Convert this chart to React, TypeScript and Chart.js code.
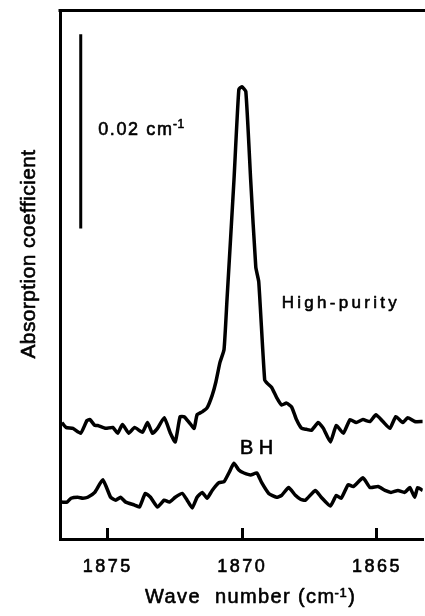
import React, { useEffect, useRef } from "react";
import { Chart, registerables } from "chart.js";

Chart.register(...registerables);

// ---- data (wave number in cm^-1, absorption coefficient in cm^-1) ----
const hpWave = [
  1876.70, 1876.55, 1876.29, 1876.00, 1875.77, 1875.66, 1875.48, 1875.37, 1875.07, 1874.81,
  1874.63, 1874.45, 1874.22, 1874.00, 1873.71, 1873.52, 1873.34, 1873.15, 1872.90, 1872.67,
  1872.49, 1872.31, 1872.16, 1871.97, 1871.79, 1871.68, 1871.49, 1871.31, 1871.12, 1870.98,
  1870.83, 1870.68, 1870.57, 1870.31, 1870.13, 1870.02, 1869.87, 1869.69, 1869.50, 1869.39,
  1869.17, 1869.06, 1868.91, 1868.73, 1868.54, 1868.36, 1868.17, 1867.99, 1867.80, 1867.62,
  1867.43, 1867.18, 1866.99, 1866.73, 1866.51, 1866.25, 1866.00, 1865.77, 1865.52, 1865.26,
  1865.04, 1864.78, 1864.52, 1864.30, 1864.04, 1863.86, 1863.60, 1863.30,
];
const hpAbs = [
  0.0120, 0.0115, 0.0114, 0.0109, 0.0122, 0.0123, 0.0117, 0.0117, 0.0114, 0.0115,
  0.0109, 0.0118, 0.0109, 0.0115, 0.0110, 0.0120, 0.0109, 0.0114, 0.0125, 0.0109,
  0.0100, 0.0126, 0.0126, 0.0120, 0.0114, 0.0128, 0.0131, 0.0135, 0.0148, 0.0162,
  0.0182, 0.0195, 0.0246, 0.0370, 0.0463, 0.0466, 0.0461, 0.0370, 0.0280, 0.0265,
  0.0164, 0.0160, 0.0156, 0.0146, 0.0138, 0.0140, 0.0136, 0.0123, 0.0114, 0.0113,
  0.0112, 0.0120, 0.0114, 0.0100, 0.0117, 0.0109, 0.0123, 0.0120, 0.0123, 0.0121,
  0.0128, 0.0121, 0.0114, 0.0126, 0.0120, 0.0125, 0.0121, 0.0121,
];
const bhWave = [
  1876.70, 1876.51, 1876.36, 1876.11, 1875.92, 1875.74, 1875.48, 1875.18, 1874.89, 1874.70,
  1874.52, 1874.33, 1874.00, 1873.82, 1873.60, 1873.41, 1873.15, 1872.90, 1872.71, 1872.49,
  1872.23, 1872.05, 1871.86, 1871.68, 1871.49, 1871.31, 1871.12, 1870.87, 1870.68, 1870.50,
  1870.31, 1870.13, 1869.94, 1869.69, 1869.46, 1869.28, 1869.02, 1868.73, 1868.54, 1868.28,
  1868.03, 1867.84, 1867.66, 1867.29, 1867.07, 1866.73, 1866.51, 1866.33, 1866.07, 1865.88,
  1865.52, 1865.26, 1864.96, 1864.70, 1864.48, 1864.22, 1863.97, 1863.78, 1863.60, 1863.49,
  1863.30,
];
const bhAbs = [
  0.0038, 0.0038, 0.0042, 0.0043, 0.0042, 0.0043, 0.0048, 0.0061, 0.0043, 0.0040,
  0.0043, 0.0038, 0.0035, 0.0033, 0.0047, 0.0043, 0.0033, 0.0040, 0.0038, 0.0043,
  0.0047, 0.0040, 0.0032, 0.0043, 0.0048, 0.0042, 0.0050, 0.0058, 0.0059, 0.0068,
  0.0078, 0.0071, 0.0068, 0.0066, 0.0068, 0.0058, 0.0047, 0.0043, 0.0045, 0.0053,
  0.0045, 0.0041, 0.0040, 0.0050, 0.0043, 0.0034, 0.0045, 0.0042, 0.0056, 0.0054,
  0.0063, 0.0053, 0.0054, 0.0050, 0.0048, 0.0050, 0.0048, 0.0053, 0.0043, 0.0053,
  0.0050,
];
// vertical scale bar: 0.02 cm^-1
const scaleBarWave = [1876.0, 1876.0];
const scaleBarAbs = [0.032, 0.052];

const xTickValues = [1875, 1870, 1865];
const xMin = 1863.3;
const xMax = 1876.77;
const yMin = 0;
const yMax = 0.0545;

const yTitle = "Absorption coefficient";
const xTitleMain = "Wave  number (cm";
const xTitleSup = "-1";
const xTitleEnd = ")";
const scaleLabelMain = "0.02 cm";
const scaleLabelSup = "-1";
const hpLabel = "High-purity";
const bhLabel = "BH";

const FONT = '"Liberation Sans", Arial, Helvetica, sans-serif';
const STROKE = 0.6;

const textPlugin = {
  id: "texts",
  beforeDraw(chart: any) {
    (chart.ctx as any).letterSpacing = "2.5px";
  },
  afterDraw(chart: any) {
    const ctx = chart.ctx as any;
    const xs = chart.scales.x;
    const ys = chart.scales.y;
    const area = chart.chartArea;
    ctx.save();
    // top frame line
    ctx.strokeStyle = "#000";
    ctx.lineWidth = 3;
    ctx.beginPath();
    ctx.moveTo(area.left - 1.5, area.top + 0.5);
    ctx.lineTo(chart.width, area.top + 0.5);
    ctx.stroke();

    ctx.fillStyle = "#000";
    ctx.strokeStyle = "#000";
    ctx.lineWidth = STROKE;
    ctx.lineJoin = "round";
    ctx.textBaseline = "alphabetic";
    ctx.textAlign = "left";
    const put = (s: string, px: number, py: number, size: number, ls: number) => {
      ctx.font = `${size}px ${FONT}`;
      ctx.letterSpacing = `${ls}px`;
      ctx.fillText(s, px, py);
      ctx.strokeText(s, px, py);
      return ctx.measureText(s).width;
    };

    // High-purity label
    put(hpLabel, xs.getPixelForValue(1868.54), ys.getPixelForValue(0.0238), 17, 3.3);
    // BH label
    put(bhLabel, xs.getPixelForValue(1870.09), ys.getPixelForValue(0.00876), 20, 5.5);
    // scale bar label
    {
      const px = xs.getPixelForValue(1875.35);
      const py = ys.getPixelForValue(0.04162);
      const w = put(scaleLabelMain, px, py, 18, 1.6);
      put(scaleLabelSup, px + w - 0.5, py - 7, 12, 0.5);
    }
    // x title
    {
      let px = 145;
      const py = 603;
      px += put(xTitleMain, px, py, 20, 1.4);
      px += put(xTitleSup, px - 1, py - 6, 13, 0.5);
      put(xTitleEnd, px, py, 20, 1.3);
    }
    // y title
    ctx.save();
    ctx.translate(35, 254);
    ctx.rotate(-Math.PI / 2);
    ctx.textAlign = "center";
    ctx.font = `21px ${FONT}`;
    ctx.letterSpacing = "0.4px";
    ctx.fillText(yTitle, 0, 0);
    ctx.strokeText(yTitle, 0, 0);
    ctx.restore();

    ctx.restore();
    ctx.letterSpacing = "0px";
  },
};

export default function App() {
  const ref = useRef<HTMLCanvasElement | null>(null);
  useEffect(() => {
    if (!ref.current) return;
    const line = { borderColor: "#000", pointRadius: 0, fill: false, borderJoinStyle: "round" as const };
    const chart = new Chart(ref.current, {
      type: "line",
      data: {
        datasets: [
          {
            label: hpLabel,
            data: hpWave.map((w, i) => ({ x: w, y: hpAbs[i] })),
            borderWidth: 3.5,
            tension: 0.15,
            ...line,
          },
          {
            label: bhLabel,
            data: bhWave.map((w, i) => ({ x: w, y: bhAbs[i] })),
            borderWidth: 3.5,
            tension: 0.15,
            ...line,
          },
          {
            label: "scale",
            data: scaleBarWave.map((w, i) => ({ x: w, y: scaleBarAbs[i] })),
            borderWidth: 3,
            tension: 0,
            ...line,
          },
        ],
      },
      options: {
        animation: false,
        responsive: false,
        devicePixelRatio: 1,
        layout: { padding: { left: 60, top: 10, right: 0, bottom: 0 } },
        plugins: { legend: { display: false }, tooltip: { enabled: false }, title: { display: false } },
        scales: {
          x: {
            type: "linear",
            min: xMin,
            max: xMax,
            reverse: true,
            afterBuildTicks: (s: any) => {
              s.ticks = xTickValues.map((v) => ({ value: v }));
            },
            afterFit: (s: any) => {
              s.height = 77;
            },
            ticks: {
              color: "#000",
              font: { family: FONT, size: 18 },
              padding: 28,
              maxRotation: 0,
              autoSkip: false,
              textStrokeColor: "#000",
              textStrokeWidth: STROKE,
              callback: (v: any) => String(v),
            },
            grid: {
              display: true,
              drawOnChartArea: false,
              drawTicks: true,
              tickLength: -11,
              color: "#000",
              lineWidth: 3,
            },
            border: { display: true, color: "#000", width: 3 },
          },
          y: {
            type: "linear",
            min: yMin,
            max: yMax,
            afterFit: (s: any) => {
              s.width = 0;
            },
            ticks: { display: false },
            grid: { display: false },
            border: { display: true, color: "#000", width: 3 },
          },
        },
      } as any,
      plugins: [textPlugin],
    });
    return () => chart.destroy();
  }, []);
  return (
    <div style={{ position: "absolute", left: 0, top: 0, width: 425, height: 616, background: "#fff" }}>
      <canvas ref={ref} width={425} height={616} style={{ display: "block", width: 425, height: 616 }} />
    </div>
  );
}
